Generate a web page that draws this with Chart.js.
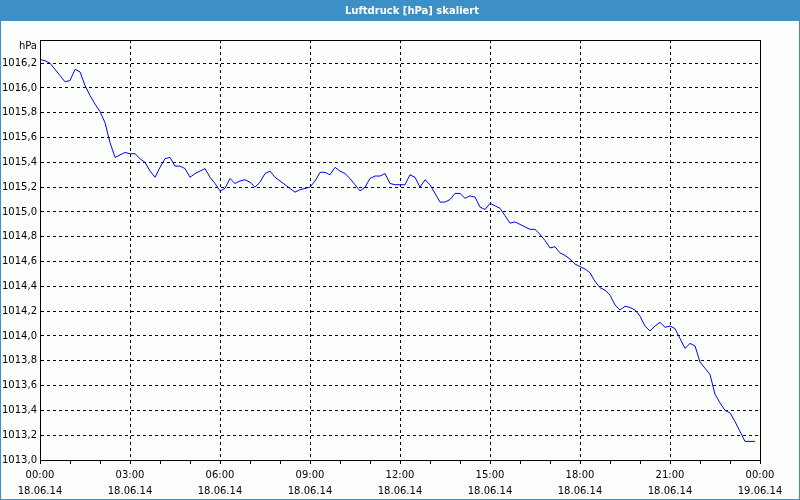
<!DOCTYPE html>
<html>
<head>
<meta charset="utf-8">
<script src="https://cdn.jsdelivr.net/npm/chart.js@4/dist/chart.umd.min.js"></script>
<style>
html,body{margin:0;padding:0;background:#fcfefc;}
#wrap{width:800px;height:500px;position:relative;}
</style>
</head>
<body>
<div id="wrap"><canvas id="c"></canvas></div>
<script>
// Air pressure [hPa], one reading every 10 minutes, 18.06.14 00:00 .. 23:50
const pressure = [
 1016.23,1016.22,1016.20,1016.15,1016.10,1016.05,1016.06,1016.15,1016.13,1016.02,
 1015.94,1015.87,1015.81,1015.72,1015.56,1015.44,1015.46,1015.48,1015.47,1015.47,
 1015.43,1015.40,1015.33,1015.28,1015.36,1015.43,1015.44,1015.37,1015.37,1015.35,
 1015.28,1015.31,1015.33,1015.35,1015.28,1015.23,1015.17,1015.19,1015.27,1015.23,
 1015.25,1015.26,1015.24,1015.20,1015.24,1015.31,1015.33,1015.28,1015.25,1015.22,
 1015.19,1015.16,1015.18,1015.19,1015.20,1015.25,1015.32,1015.32,1015.30,1015.36,
 1015.33,1015.31,1015.27,1015.22,1015.17,1015.20,1015.27,1015.29,1015.29,1015.31,
 1015.23,1015.22,1015.22,1015.22,1015.30,1015.28,1015.20,1015.26,1015.22,1015.15,
 1015.08,1015.08,1015.10,1015.15,1015.15,1015.11,1015.13,1015.12,1015.04,1015.02,
 1015.07,1015.05,1015.03,1014.97,1014.91,1014.92,1014.90,1014.88,1014.86,1014.86,
 1014.82,1014.77,1014.71,1014.72,1014.67,1014.65,1014.62,1014.58,1014.56,1014.54,
 1014.51,1014.44,1014.39,1014.37,1014.33,1014.25,1014.21,1014.24,1014.23,1014.21,
 1014.16,1014.08,1014.04,1014.08,1014.11,1014.07,1014.08,1014.06,1013.98,1013.90,
 1013.94,1013.92,1013.79,1013.74,1013.69,1013.53,1013.46,1013.40,1013.38,1013.31,
 1013.23,1013.15,1013.15,1013.15
];
const intervalMinutes = 10;
const minutesOfDay = pressure.map((_, i) => i * intervalMinutes);
const xTimes = {0:'00:00',180:'03:00',360:'06:00',540:'09:00',720:'12:00',900:'15:00',1080:'18:00',1260:'21:00',1440:'00:00'};
const xDates = {0:'18.06.14',180:'18.06.14',360:'18.06.14',540:'18.06.14',720:'18.06.14',900:'18.06.14',1080:'18.06.14',1260:'18.06.14',1440:'19.06.14'};
const yMin = 1013.0, yMax = 1016.387, yStep = 0.2;
const titleText = 'Luftdruck [hPa] skaliert';
const unitText = 'hPa';

const FONT = '"DejaVu Sans", Verdana, sans-serif';
const BAR = '#3c90c6';

const frame = {
  id: 'frame',
  beforeDraw(chart) {
    const ctx = chart.ctx, w = chart.width, h = chart.height;
    ctx.save();
    ctx.fillStyle = '#fcfefc';
    ctx.fillRect(0, 0, w, h);
    ctx.fillStyle = BAR;
    ctx.fillRect(0, 0, w, 21);
    ctx.fillRect(0, 0, 1, h);
    ctx.fillRect(w - 1, 0, 1, h);
    ctx.fillRect(0, h - 1, w, 1);
    ctx.fillStyle = '#ffffff';
    ctx.font = 'bold 10px ' + FONT;
    ctx.textAlign = 'center';
    ctx.textBaseline = 'middle';
    ctx.fillText(titleText, 412, 11);
    ctx.fillStyle = '#000';
    ctx.font = '10px ' + FONT;
    ctx.textAlign = 'right';
    ctx.fillText(unitText, 37, 46);
    ctx.restore();
  },
  afterDraw(chart) {
    const a = chart.chartArea, ctx = chart.ctx;
    ctx.save();
    ctx.strokeStyle = '#000';
    ctx.lineWidth = 1;
    ctx.setLineDash([]);
    ctx.strokeRect(Math.round(a.left) + 0.5, Math.round(a.top) + 0.5, Math.round(a.right - a.left), Math.round(a.bottom - a.top));
    ctx.restore();
  }
};

new Chart(document.getElementById('c'), {
  type: 'line',
  data: {
    datasets: [{
      data: pressure.map((v, i) => ({x: minutesOfDay[i], y: v})),
      borderColor: '#0000ff',
      borderWidth: 1,
      pointRadius: 0,
      tension: 0,
      fill: false
    }]
  },
  options: {
    responsive: true,
    maintainAspectRatio: false,
    animation: false,
    events: [],
    layout: {padding: {top: 40, right: 40, left: 0, bottom: 0}},
    plugins: {legend: {display: false}, title: {display: false}, tooltip: {enabled: false}},
    scales: {
      x: {
        type: 'linear',
        min: 0, max: 1440,
        afterFit(s) { s.height = 40; },
        ticks: {
          stepSize: 60,
          autoSkip: false,
          maxRotation: 0,
          padding: 3,
          color: '#000',
          font: {family: FONT, size: 10, lineHeight: 1.6},
          callback: (v) => (v % 180 === 0) ? [xTimes[v], xDates[v]] : ''
        },
        grid: {
          color: (c) => (c.tick && c.tick.value % 180 === 0) ? '#000' : 'rgba(0,0,0,0)',
          tickColor: '#000',
          tickLength: 4,
          tickBorderDash: [],
          lineWidth: 1
        },
        border: {display: true, color: '#000', width: 1, dash: [3, 3]}
      },
      y: {
        type: 'linear',
        min: yMin, max: yMax,
        afterFit(s) { s.width = 40; },
        afterBuildTicks(s) {
          s.ticks = s.ticks.filter(t => Math.abs(Math.round((t.value - yMin) / yStep) * yStep - (t.value - yMin)) < 1e-6);
        },
        ticks: {
          stepSize: yStep,
          padding: 3,
          color: '#000',
          font: {family: FONT, size: 10},
          callback: (v) => v.toFixed(1).replace('.', ',')
        },
        grid: {color: '#000', lineWidth: 1, drawTicks: false},
        border: {display: true, color: '#000', width: 1, dash: [3, 3]}
      }
    }
  },
  plugins: [frame]
});
</script>
</body>
</html>
